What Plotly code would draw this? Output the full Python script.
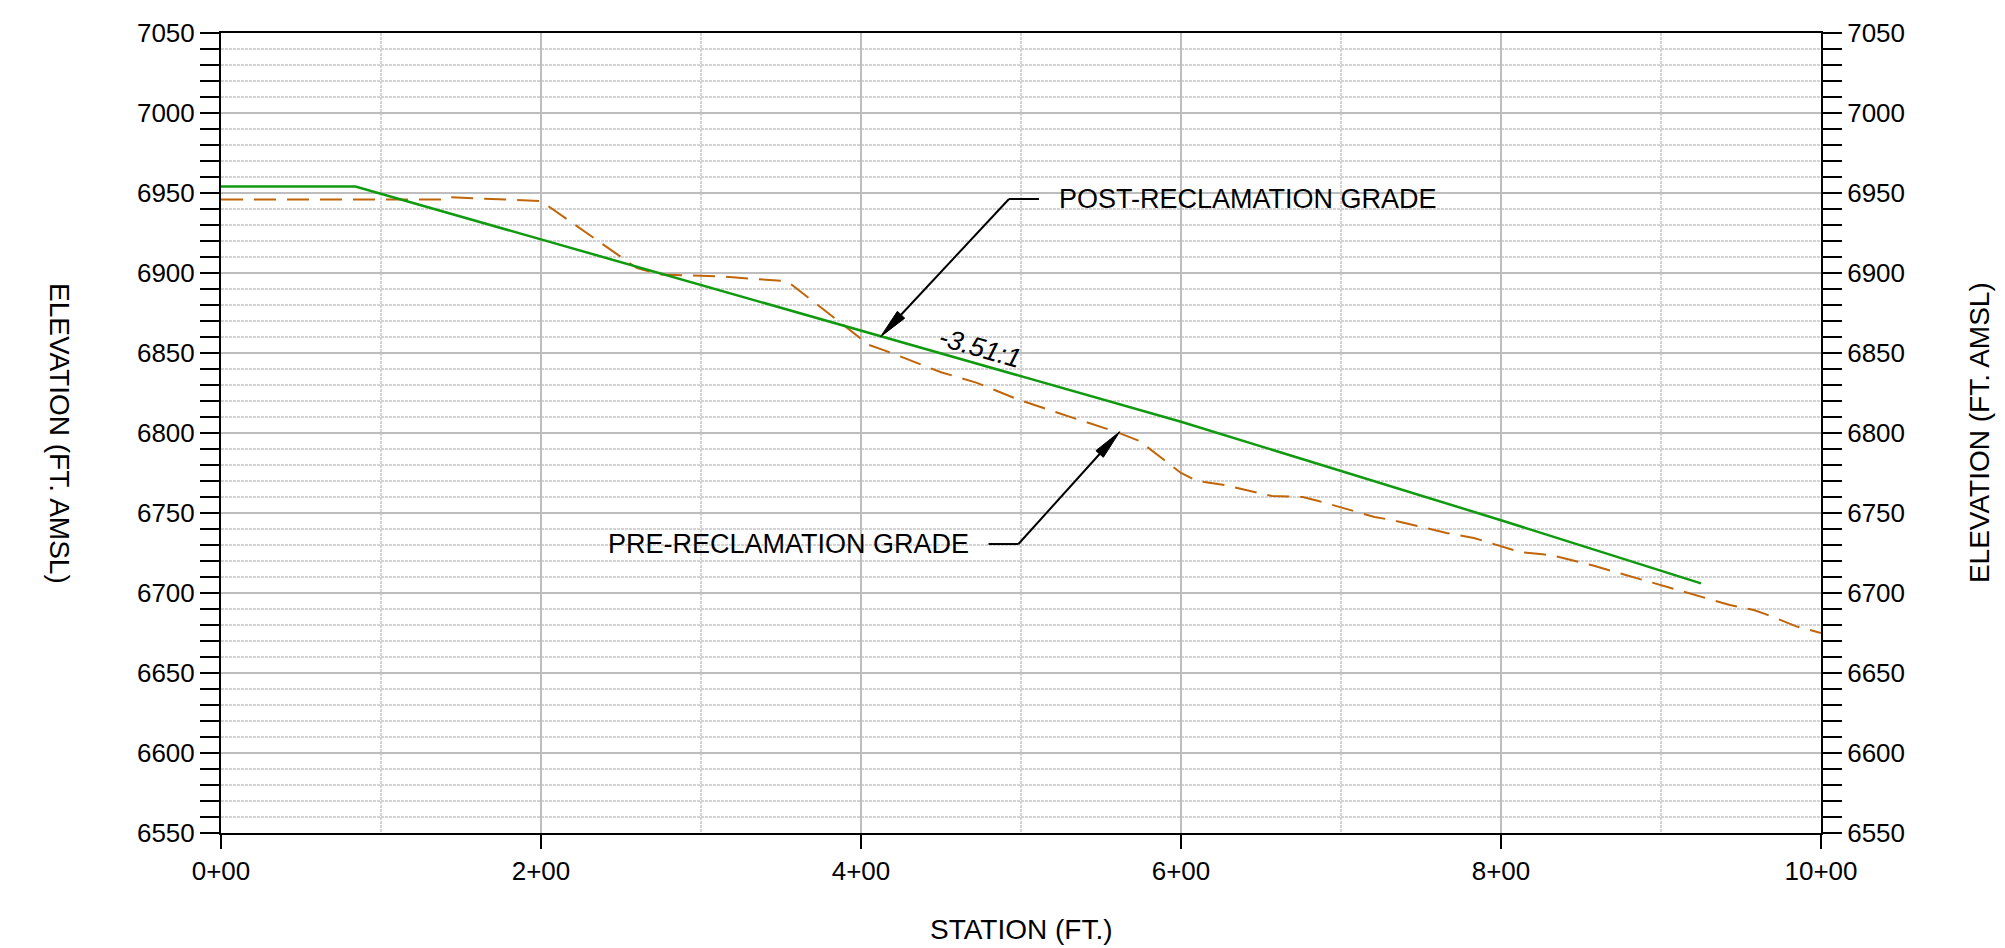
import math
import plotly.graph_objects as go

# ---------------- data ----------------
post_station = [0, 84, 200, 400, 600, 800, 925]
post_elev = [6954, 6954, 6921, 6864, 6807, 6745.5, 6706]

pre_station = [0, 138, 140, 200, 260, 275, 310, 352, 355, 405, 415, 450, 472, 498, 534,
               560, 574, 583, 600, 610, 628, 657, 676, 686, 721, 733, 766, 783, 800,
               812, 826, 834, 857, 893, 920, 943, 958, 964, 985, 1000]
pre_elev = [6946, 6946, 6947.5, 6945, 6903, 6899, 6898, 6895, 6894, 6855, 6851.5, 6838,
            6831.5, 6821, 6809, 6800.5, 6795, 6788, 6775, 6770, 6767.3, 6760.6, 6760,
            6757.5, 6747.5, 6745.4, 6737.5, 6734.4, 6729.4, 6725.6, 6724.2, 6723,
            6717.3, 6707, 6699, 6692.5, 6689.4, 6687.3, 6679, 6675]

station_ticks = [0, 200, 400, 600, 800, 1000]
station_labels = ["0+00", "2+00", "4+00", "6+00", "8+00", "10+00"]
station_minor = [100, 300, 500, 700, 900]

slope_label = "-3.51:1"
post_label = "POST-RECLAMATION GRADE"
pre_label = "PRE-RECLAMATION GRADE"

# ---------------- style ----------------
FONT = "Liberation Sans, Arial, sans-serif"
GREEN = "#0f9a0f"
ORANGE = "#c0650a"
GRID_MAJ = "#bdbdbd"
GRID_MIN = "#d3d3d3"
MINOR_DASH = "3px,1px"
PX_PER_UNIT = 1.6

# annotation geometry (data units)
POST_TIP = (412.25, 6860.2)
POST_ELBOW = (492.5, 6946.25)
POST_SHELF_END = 511.25
POST_TEXT_X = 522.5

PRE_TIP = (561.7, 6800.8)
PRE_ELBOW = (498.4, 6730.6)
PRE_SHELF_END = 479.7
PRE_TEXT_X = 468.5

fig = go.Figure()

fig.add_trace(go.Scatter(x=pre_station, y=pre_elev, mode="lines",
                         line=dict(color=ORANGE, width=2, dash="22px,11px"),
                         hoverinfo="skip", showlegend=False))
fig.add_trace(go.Scatter(x=post_station, y=post_elev, mode="lines",
                         line=dict(color=GREEN, width=2.5),
                         hoverinfo="skip", showlegend=False))
# invisible trace to carry the right-hand elevation axis
fig.add_trace(go.Scatter(x=post_station, y=post_elev, mode="lines", yaxis="y2",
                         line=dict(color="rgba(0,0,0,0)", width=0),
                         hoverinfo="skip", showlegend=False))

shapes = []
annotations = []


def leader(tip, elbow, shelf_end):
    L = 30 / PX_PER_UNIT
    w = 5 / PX_PER_UNIT
    dx, dy = elbow[0] - tip[0], elbow[1] - tip[1]
    d = math.hypot(dx, dy)
    ux, uy = dx / d, dy / d
    bx, by = tip[0] + ux * L, tip[1] + uy * L
    nx, ny = -uy, ux
    p1 = (bx + nx * w, by + ny * w)
    p2 = (bx - nx * w, by - ny * w)
    shapes.append(dict(type="line", xref="x", yref="y", x0=bx, y0=by,
                       x1=elbow[0], y1=elbow[1], line=dict(color="black", width=2)))
    shapes.append(dict(type="line", xref="x", yref="y", x0=elbow[0], y0=elbow[1],
                       x1=shelf_end, y1=elbow[1], line=dict(color="black", width=2)))
    shapes.append(dict(type="path", xref="x", yref="y",
                       path=f"M {tip[0]},{tip[1]} L {p1[0]},{p1[1]} L {p2[0]},{p2[1]} Z",
                       fillcolor="black", line=dict(color="black", width=1)))


leader(POST_TIP, POST_ELBOW, POST_SHELF_END)
leader(PRE_TIP, PRE_ELBOW, PRE_SHELF_END)

annotations.append(dict(x=POST_TEXT_X, y=POST_ELBOW[1], xref="x", yref="y",
                        text=post_label, showarrow=False, xanchor="left", yanchor="middle",
                        font=dict(family=FONT, size=27, color="black")))
annotations.append(dict(x=PRE_TEXT_X, y=PRE_ELBOW[1], xref="x", yref="y",
                        text=pre_label, showarrow=False, xanchor="right", yanchor="middle",
                        font=dict(family=FONT, size=27, color="black")))
annotations.append(dict(x=474.4, y=6853.1, xref="x", yref="y", text=slope_label,
                        showarrow=False, textangle=16, xanchor="center", yanchor="middle",
                        font=dict(family=FONT, size=27, color="black", style="italic")))

# axis titles
annotations.append(dict(x=-0.1006, y=0.5, xref="paper", yref="paper",
                        text="ELEVATION (FT. AMSL)", showarrow=False, textangle=90,
                        xanchor="center", yanchor="middle",
                        font=dict(family=FONT, size=28, color="black")))
annotations.append(dict(x=1.0988, y=0.5, xref="paper", yref="paper",
                        text="ELEVATION (FT. AMSL)", showarrow=False, textangle=-90,
                        xanchor="center", yanchor="middle",
                        font=dict(family=FONT, size=28, color="black")))
annotations.append(dict(x=0.5, y=-0.1212, xref="paper", yref="paper",
                        text="STATION (FT.)", showarrow=False,
                        xanchor="center", yanchor="middle",
                        font=dict(family=FONT, size=28, color="black")))

yaxis_common = dict(
    range=[6550, 7050], tick0=6550, dtick=50, ticks="outside", ticklen=19,
    tickwidth=2, tickcolor="black", showline=True, linecolor="black", linewidth=2,
    zeroline=False, tickfont=dict(family=FONT, size=26, color="black"),
    fixedrange=True,
)

fig.update_layout(
    width=2005, height=948,
    margin=dict(l=221, r=184, t=33, b=115, pad=0),
    paper_bgcolor="white", plot_bgcolor="white",
    showlegend=False,
    font=dict(family=FONT, size=26, color="black"),
    xaxis=dict(
        range=[0, 1000], tickmode="array", tickvals=station_ticks, ticktext=station_labels,
        ticks="outside", ticklen=14, tickwidth=2, tickcolor="black",
        showline=True, linecolor="black", linewidth=2, mirror=True,
        showgrid=True, gridcolor=GRID_MAJ, gridwidth=1.5, zeroline=False,
        tickfont=dict(family=FONT, size=26, color="black"),
        minor=dict(tickmode="array", tickvals=station_minor, ticks="",
                   showgrid=True, gridcolor=GRID_MIN, gridwidth=1.5, griddash=MINOR_DASH),
    ),
    yaxis=dict(
        **yaxis_common,
        showgrid=True, gridcolor=GRID_MAJ, gridwidth=1.5,
        minor=dict(dtick=10, tick0=6550, ticks="outside", ticklen=19, tickwidth=2,
                   tickcolor="black", showgrid=True, gridcolor=GRID_MIN,
                   gridwidth=1.5, griddash=MINOR_DASH),
    ),
    yaxis2=dict(
        **yaxis_common,
        overlaying="y", side="right", anchor="x", showgrid=False,
        minor=dict(dtick=10, tick0=6550, ticks="outside", ticklen=19, tickwidth=2,
                   tickcolor="black", showgrid=False),
    ),
    shapes=shapes,
    annotations=annotations,
)

fig.write_html("out.html")
